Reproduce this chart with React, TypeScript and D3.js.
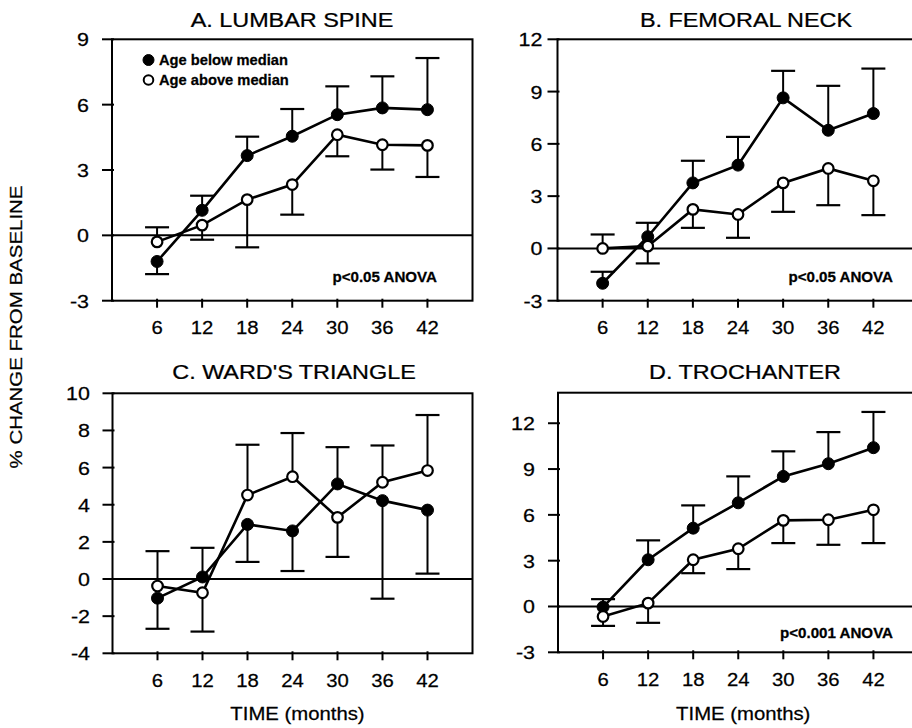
import React from "react";
import * as d3 from "d3";

const months = [6, 12, 18, 24, 30, 36, 42];

// A. Lumbar spine
const lumbarBelow = [-1.2, 1.15, 3.66, 4.55, 5.54, 5.85, 5.77];
const lumbarBelowErr = [-1.78, 1.82, 4.53, 5.8, 6.84, 7.3, 8.14];
const lumbarAbove = [-0.3, 0.47, 1.64, 2.33, 4.62, 4.16, 4.13];
const lumbarAboveErr = [0.37, -0.2, -0.55, 0.95, 3.63, 3.02, 2.68];

// B. Femoral neck
const femoralBelow = [-2.0, 0.67, 3.76, 4.78, 8.64, 6.78, 7.74];
const femoralBelowErr = [-1.34, 1.47, 5.03, 6.4, 10.19, 9.33, 10.32];
const femoralAbove = [0.0, 0.13, 2.24, 1.95, 3.76, 4.59, 3.88];
const femoralAboveErr = [0.8, -0.86, 1.18, 0.61, 2.1, 2.48, 1.91];

// C. Ward's triangle
const wardBelow = [-1.03, 0.11, 2.94, 2.59, 5.12, 4.22, 3.71];
const wardBelowErr = [-2.68, 1.68, 0.92, 0.43, 7.1, -1.06, 0.29];
const wardAbove = [-0.38, -0.74, 4.52, 5.51, 3.32, 5.21, 5.84];
const wardAboveErr = [1.5, -2.83, 7.23, 7.86, 1.19, 7.19, 8.83];

// D. Trochanter
const trochBelow = [-0.04, 3.06, 5.13, 6.79, 8.52, 9.35, 10.4];
const trochBelowErr = [0.48, 4.33, 6.62, 8.52, 10.16, 11.42, 12.74];
const trochAbove = [-0.66, 0.22, 3.06, 3.78, 5.64, 5.68, 6.33];
const trochAboveErr = [-1.27, -1.07, 2.18, 2.45, 4.15, 4.04, 4.15];

const titles = ["A. LUMBAR SPINE", "B. FEMORAL NECK", "C. WARD'S TRIANGLE", "D. TROCHANTER"];
const anovaLabels = ["p<0.05 ANOVA", "p<0.05 ANOVA", "", "p<0.001 ANOVA"];
const yTicksA = [-3, 0, 3, 6, 9];
const yTicksB = [-3, 0, 3, 6, 9, 12];
const yTicksC = [-4, -2, 0, 2, 4, 6, 8, 10];
const yTicksD = [-3, 0, 3, 6, 9, 12];
const legendLabels = ["Age below median", "Age above median"];
const xAxisTitle = "TIME (months)";
const yAxisTitle = "% CHANGE FROM BASELINE";

const FONT = "'Liberation Sans', Arial, Helvetica, sans-serif";

type TProps = {
  x: number; y: number; fs: number; sx?: number; anchor?: string; weight?: string;
  rotate?: number; baseline?: string; children: React.ReactNode;
};
function T({ x, y, fs, sx = 1, anchor = "start", weight = "normal", rotate = 0, baseline, children }: TProps) {
  return (
    <text
      transform={`translate(${x},${y}) rotate(${rotate}) scale(${sx},1)`}
      fontSize={fs}
      fontFamily={FONT}
      fontWeight={weight}
      textAnchor={anchor}
      dominantBaseline={baseline}
      fill="#000"
      stroke="#000"
      strokeWidth={0.25}
    >
      {children}
    </text>
  );
}

type PanelCfg = {
  title: string; titleX: number; titleY: number;
  x0: number; x1: number; y0: number; y1: number;
  yDomain: [number, number]; yTicks: number[]; labelRight: number;
  below: number[]; belowErr: number[]; above: number[]; aboveErr: number[];
  anova: string; anovaX: number; anovaY: number;
  legend?: boolean; xTitle?: boolean;
};

const panels: PanelCfg[] = [
  {
    title: titles[0], titleX: 292, titleY: 27, x0: 112, x1: 472.5, y0: 39.3, y1: 300.7,
    yDomain: [-3, 9], yTicks: yTicksA, labelRight: 89,
    below: lumbarBelow, belowErr: lumbarBelowErr, above: lumbarAbove, aboveErr: lumbarAboveErr,
    anova: anovaLabels[0], anovaX: 437, anovaY: 281.5, legend: true,
  },
  {
    title: titles[1], titleX: 746, titleY: 27, x0: 557.5, x1: 918.5, y0: 39.3, y1: 300.7,
    yDomain: [-3, 12], yTicks: yTicksB, labelRight: 542.5,
    below: femoralBelow, belowErr: femoralBelowErr, above: femoralAbove, aboveErr: femoralAboveErr,
    anova: anovaLabels[1], anovaX: 893, anovaY: 281.5,
  },
  {
    title: titles[2], titleX: 294, titleY: 379, x0: 112.5, x1: 472.5, y0: 393.3, y1: 653.3,
    yDomain: [-4, 10], yTicks: yTicksC, labelRight: 90,
    below: wardBelow, belowErr: wardBelowErr, above: wardAbove, aboveErr: wardAboveErr,
    anova: anovaLabels[2], anovaX: 0, anovaY: 0, xTitle: true,
  },
  {
    title: titles[3], titleX: 745, titleY: 379, x0: 558, x1: 918.5, y0: 392.7, y1: 652.3,
    yDomain: [-3, 14], yTicks: yTicksD, labelRight: 535,
    below: trochBelow, belowErr: trochBelowErr, above: trochAbove, aboveErr: trochAboveErr,
    anova: anovaLabels[3], anovaX: 893, anovaY: 637.5, xTitle: true,
  },
];

function Panel({ p }: { p: PanelCfg }) {
  const x = d3.scaleLinear().domain([0, 48]).range([p.x0, p.x1]);
  const y = d3.scaleLinear().domain(p.yDomain).range([p.y1, p.y0]);
  const line = d3.line<number>().x((_, i) => x(months[i])).y((v) => y(v));
  const cap = 12;
  const series = [
    { vals: p.below, errs: p.belowErr, filled: true },
    { vals: p.above, errs: p.aboveErr, filled: false },
  ];
  return (
    <g>
      <T x={p.titleX} y={p.titleY} fs={19.5} sx={1.2} anchor="middle">{p.title}</T>
      {/* frame */}
      <rect x={p.x0} y={p.y0} width={p.x1 - p.x0} height={p.y1 - p.y0} fill="none" stroke="#000" strokeWidth={2} />
      {/* zero line */}
      <line x1={p.x0} x2={p.x1} y1={y(0)} y2={y(0)} stroke="#000" strokeWidth={2} />
      {/* y ticks */}
      {p.yTicks.map((t) => (
        <g key={"y" + t}>
          <line x1={p.x0 - 10} x2={p.x0 + 2} y1={y(t)} y2={y(t)} stroke="#000" strokeWidth={2} />
          <T x={p.labelRight} y={y(t) + 7} fs={19} sx={1.13} anchor="end">{String(t)}</T>
        </g>
      ))}
      {/* x ticks */}
      {months.map((m) => (
        <g key={"x" + m}>
          <line x1={x(m)} x2={x(m)} y1={p.y1 - 2} y2={p.y1 + 7} stroke="#000" strokeWidth={2} />
          <T x={x(m)} y={p.y1 + 33.5} fs={19} sx={1.07} anchor="middle">{String(m)}</T>
        </g>
      ))}
      {/* error bars */}
      {series.map((s, si) =>
        s.vals.map((v, i) => (
          <g key={`e${si}-${i}`}>
            <line x1={x(months[i])} x2={x(months[i])} y1={y(v)} y2={y(s.errs[i])} stroke="#000" strokeWidth={2} />
            <line x1={x(months[i]) - cap} x2={x(months[i]) + cap} y1={y(s.errs[i])} y2={y(s.errs[i])} stroke="#000" strokeWidth={2.2} />
          </g>
        ))
      )}
      {/* lines */}
      {series.map((s, si) => (
        <path key={"l" + si} d={line(s.vals) || ""} fill="none" stroke="#000" strokeWidth={2.6} />
      ))}
      {/* markers */}
      {series.map((s, si) =>
        s.vals.map((v, i) => (
          <circle
            key={`m${si}-${i}`}
            cx={x(months[i])}
            cy={y(v)}
            r={s.filled ? 6 : 5.3}
            fill={s.filled ? "#000" : "#fff"}
            stroke="#000"
            strokeWidth={s.filled ? 1 : 2.2}
          />
        ))
      )}
      {p.anova && (
        <T x={p.anovaX} y={p.anovaY} fs={14} sx={1.08} anchor="end" weight="bold">{p.anova}</T>
      )}
      {p.legend && (
        <g>
          <circle cx={148.5} cy={60} r={5.5} fill="#000" stroke="#000" strokeWidth={1} />
          <T x={159} y={64.5} fs={14} sx={1.05} weight="bold">{legendLabels[0]}</T>
          <circle cx={148.5} cy={80} r={4.8} fill="#fff" stroke="#000" strokeWidth={2} />
          <T x={159} y={84.5} fs={14} sx={1.05} weight="bold">{legendLabels[1]}</T>
        </g>
      )}
      {p.xTitle && (
        <T x={(p.x0 + p.x1) / 2 + 5} y={720} fs={19} sx={1.07} anchor="middle">{xAxisTitle}</T>
      )}
    </g>
  );
}

export default function App() {
  return (
    <svg
      width={912}
      height={728}
      viewBox="0 0 912 728"
      style={{ position: "absolute", left: 0, top: 0, background: "#fff" }}
    >
      <rect x={0} y={0} width={912} height={728} fill="#fff" />
      {panels.map((p, i) => (
        <Panel key={i} p={p} />
      ))}
      <T x={22} y={327} fs={16.5} sx={1.24} anchor="middle" rotate={-90}>{yAxisTitle}</T>
    </svg>
  );
}
